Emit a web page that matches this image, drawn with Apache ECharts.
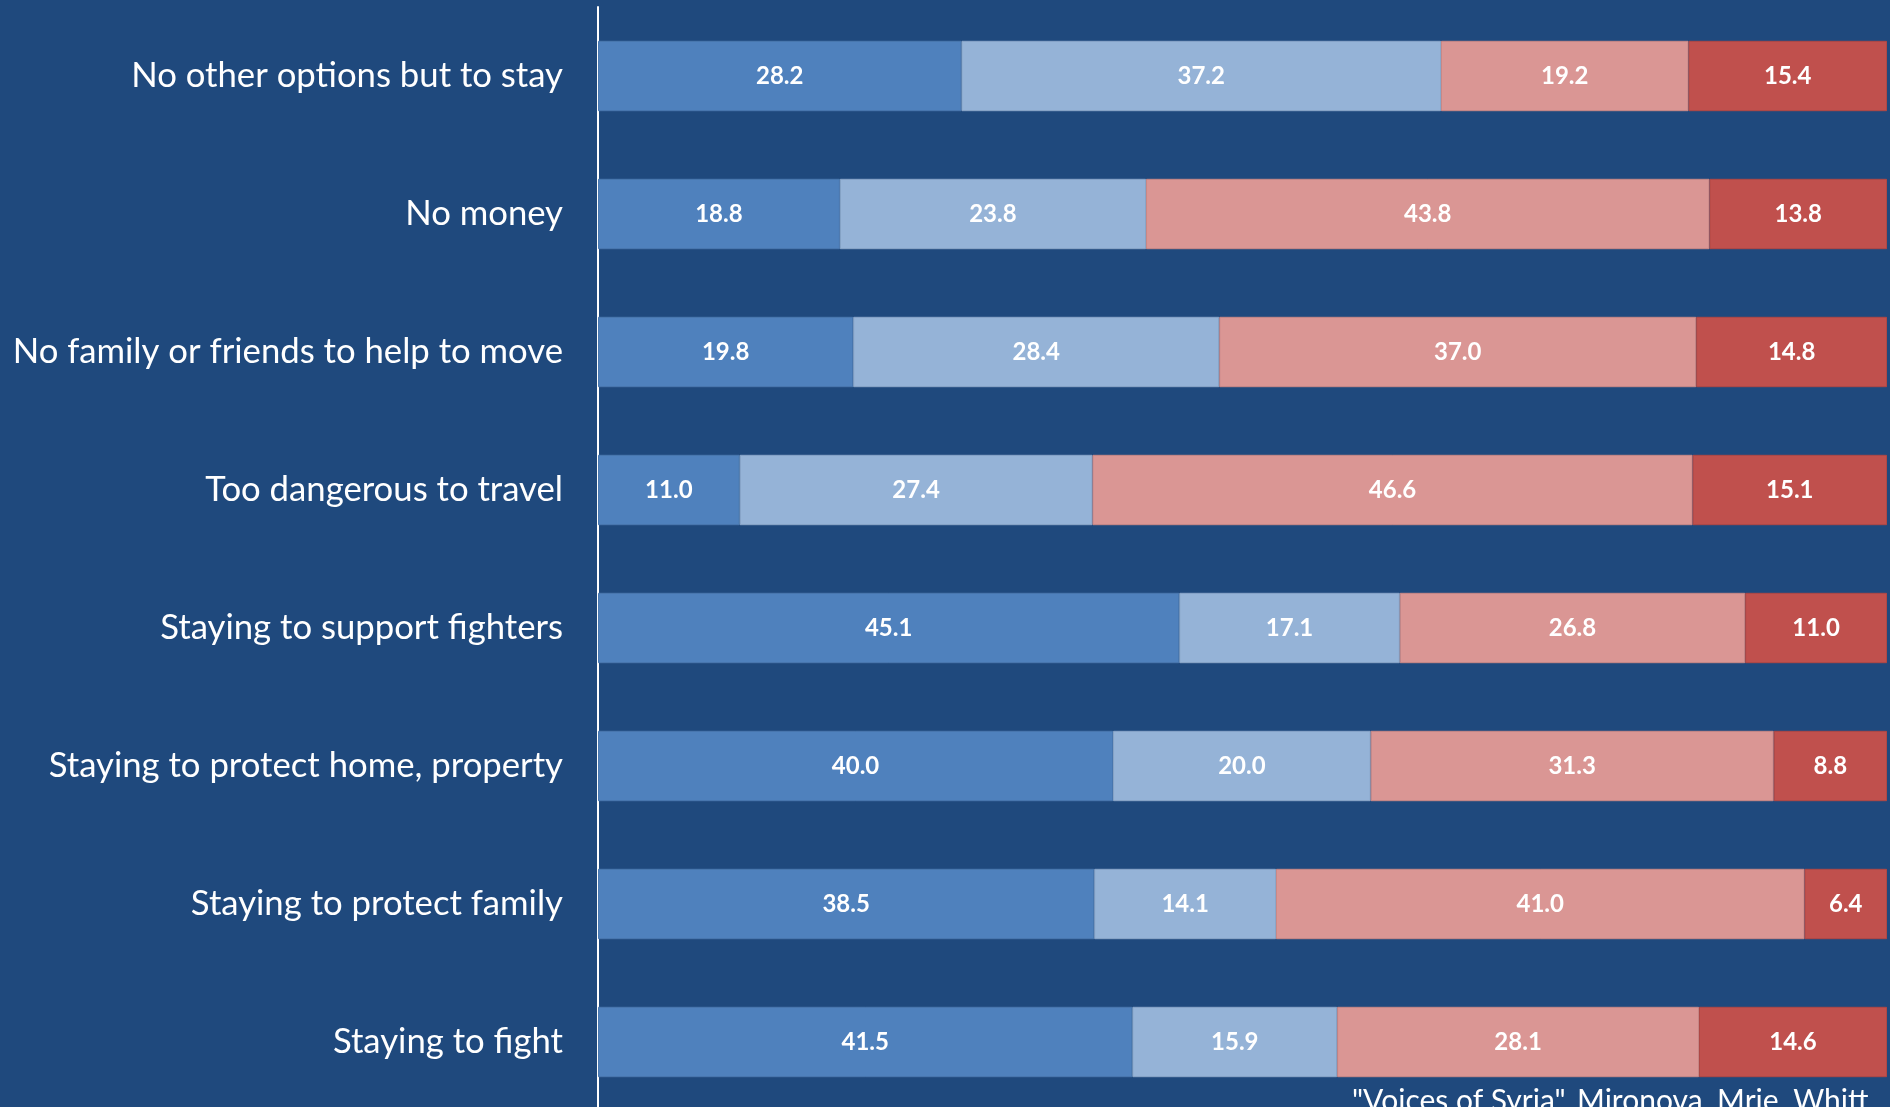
<!DOCTYPE html>
<html>
<head>
<meta charset="utf-8">
<script src="https://cdn.jsdelivr.net/npm/echarts@6/dist/echarts.min.js"></script>
<style>
  html, body { margin: 0; padding: 0; background: #1F497D; }
  #chart { width: 1890px; height: 1107px; }
</style>
</head>
<body>
<div id="chart"></div>
<script>
// reasons for staying, top to bottom
const categories = [
  'No other options but to stay',
  'No money',
  'No family or friends to help to move',
  'Too dangerous to travel',
  'Staying to support fighters',
  'Staying to protect home, property',
  'Staying to protect family',
  'Staying to fight'
]
// four answer groups, left to right
const s1 = [28.2, 18.8, 19.8, 11.0, 45.1, 40.0, 38.5, 41.5]
const s2 = [37.2, 23.8, 28.4, 27.4, 17.1, 20.0, 14.1, 15.9]
const s3 = [19.2, 43.8, 37.0, 46.6, 26.8, 31.3, 41.0, 28.1]
const s4 = [15.4, 13.8, 14.8, 15.1, 11.0, 8.8, 6.4, 14.6]
const sourceText = '"Voices of Syria", Mironova, Mrie, Whitt'

const groups = [s1, s2, s3, s4]
const colors = ['#4F81BD', '#95B3D7', '#DA9694', '#C0504D']
const borders = ['#4A78AF', '#8AA6C8', '#C98886', '#B04845']
const font = 'Lato, "Open Sans", sans-serif'

// 100% stacked: each row scaled to its own total, labels keep the raw value
const totals = categories.map((c, i) => groups.reduce((t, g) => t + g[i], 0))

let myChart = echarts.init(document.getElementById('chart'))
myChart.setOption({
  backgroundColor: '#1F497D',
  animation: false,
  grid: { left: 598, right: 3, top: 7, height: 1104, outerBoundsMode: 'none' },
  xAxis: {
    type: 'value',
    min: 0,
    max: 100,
    show: false
  },
  yAxis: {
    type: 'category',
    data: categories,
    inverse: true,
    axisLine: { show: true, lineStyle: { color: '#FFFFFF', width: 2 } },
    axisTick: { show: false },
    axisLabel: {
      color: '#FFFFFF',
      fontFamily: font,
      fontSize: 34.7,
      margin: 35
    }
  },
  series: groups.map((g, k) => ({
    type: 'bar',
    stack: 'all',
    barWidth: '51%',
    data: g.map((v, i) => ({ value: v / totals[i] * 100, raw: v })),
    itemStyle: { color: colors[k], borderColor: borders[k], borderWidth: 1 },
    label: {
      show: true,
      position: 'inside',
      color: '#FFFFFF',
      fontFamily: font,
      fontWeight: 'bold',
      fontSize: 24,
      formatter: p => p.data.raw.toFixed(1)
    }
  })),
  graphic: [{
    type: 'text',
    left: 1352,
    top: 1086,
    style: {
      text: sourceText,
      fill: '#FFFFFF',
      font: '30px ' + font
    }
  }]
})
</script>
</body>
</html>
